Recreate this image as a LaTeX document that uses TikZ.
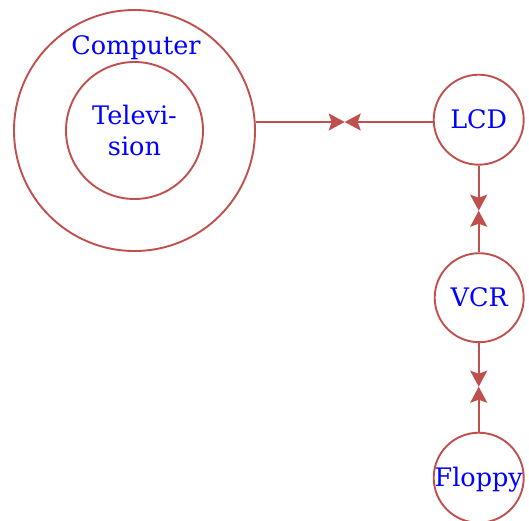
\documentclass[tikz,border=0pt]{standalone}
\usepackage{fontspec}
\setmainfont{DejaVu Serif}
\usetikzlibrary{arrows.meta}
\definecolor{edgered}{HTML}{C0504D}
\definecolor{txtblue}{RGB}{0,0,255}
\tikzset{
  ring/.style={circle, draw=edgered, line width=1.9pt, inner sep=0pt},
  lbl/.style={text=txtblue, font=\fontsize{25.5}{31}\selectfont},
  capbox/.style={text height=18.5pt, text depth=0pt},
  arr/.style={draw=edgered, line width=1.9pt, -{Stealth[length=16pt,width=17pt,inset=3pt]}},
}
\begin{document}
\begin{tikzpicture}[x=1pt,y=-1pt]
\useasboundingbox (0,0) rectangle (529,520);
\node[ring, minimum size=241pt] (computer) at (134.5,130.5) {};
\node[lbl, anchor=base] (computertext) at (136,54.3) {Computer};
\node[ring, minimum size=137pt, lbl, align=center] (tv) at (134.5,130.5) {Televi-\\sion};
\node[ring, minimum size=90pt, lbl, capbox] (lcd) at (478.7,119.7) {LCD};
\node[ring, minimum size=89pt, lbl, capbox] (vcr) at (479.2,297.7) {VCR};
\node[ring, minimum size=89pt, lbl, capbox] (floppy) at (478.7,477.7) {Floppy};
\coordinate (m1) at (344.7,122);
\coordinate (m2) at (478.7,210.7);
\coordinate (m3) at (478.7,386.7);
\draw[arr] (computer.east |- m1) -- (m1);
\draw[arr] (lcd.west |- m1) -- (m1);
\draw[arr] (lcd) -- (m2);
\draw[arr] (vcr.north -| m2) -- (m2);
\draw[arr] (vcr.south -| m3) -- (m3);
\draw[arr] (floppy.north -| m3) -- (m3);
\end{tikzpicture}
\end{document}
